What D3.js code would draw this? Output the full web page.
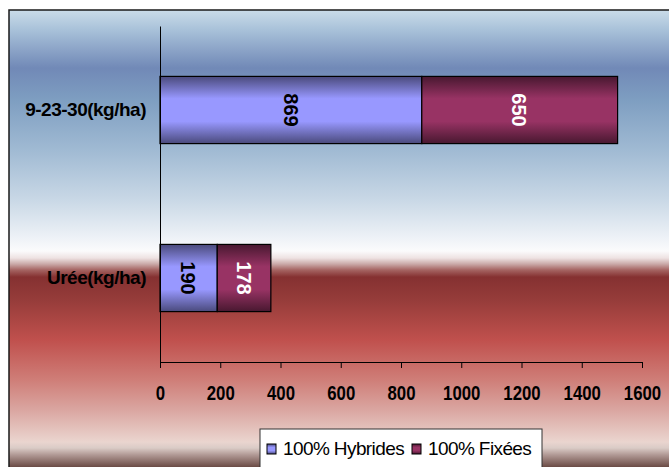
<!DOCTYPE html>
<html>
<head>
<meta charset="utf-8">
<script src="https://cdn.jsdelivr.net/npm/d3@7"></script>
<style>
  html, body { margin: 0; padding: 0; background: #ffffff; }
  svg { display: block; }
  text { font-family: "Liberation Sans", Arial, sans-serif; }
</style>
</head>
<body>
<svg id="chart" width="669" height="467"></svg>
<script>
// Fertiliser doses per hectare, stacked by variety type
const categories = ["9-23-30(kg/ha)", "Urée(kg/ha)"];
const seriesNames = ["100% Hybrides", "100% Fixées"];
const hybrides = [869, 190];
const fixees = [650, 178];
const xTicks = [0, 200, 400, 600, 800, 1000, 1200, 1400, 1600];

const svg = d3.select("#chart");
const defs = svg.append("defs");

// Chart-area backdrop: sky blue fading to white, then deep red down to a pale rose
const bgStops = [
  [10, "#cadce9"], [30, "#a8c1d9"], [68, "#7189b7"], [100, "#7e9ec1"],
  [150, "#a0bad3"], [200, "#c9d8e6"], [238, "#eef2f7"], [251, "#fbfbfc"],
  [258, "#eee2e2"], [264, "#caa9a8"], [270, "#a56462"], [277, "#853131"],
  [300, "#963c3a"], [340, "#c0504d"], [380, "#cf7e78"], [410, "#daa6a1"],
  [442, "#ead5cf"], [448, "#dacbc6"], [455, "#b09894"], [467, "#6b4b45"]
];
const bg = defs.append("linearGradient").attr("id", "bgGrad")
  .attr("gradientUnits", "userSpaceOnUse")
  .attr("x1", 0).attr("x2", 0).attr("y1", 10).attr("y2", 467);
bgStops.forEach(([yy, c]) => bg.append("stop")
  .attr("offset", ((yy - 10) / 457 * 100).toFixed(2) + "%").attr("stop-color", c));

svg.append("rect").attr("x", 9).attr("y", 10).attr("width", 700).attr("height", 500)
  .attr("fill", "url(#bgGrad)").attr("stroke", "#1a1a1a").attr("stroke-width", 1.5);

// Bar shading: dark edges, bright middle
function barGradient(id, edge, mid) {
  const g = defs.append("linearGradient").attr("id", id)
    .attr("x1", 0).attr("x2", 0).attr("y1", 0).attr("y2", 1);
  [[0, edge], [0.33, mid], [0.67, mid], [1, edge]].forEach(([o, c]) =>
    g.append("stop").attr("offset", o).attr("stop-color", c));
}
barGradient("gHyb", "#4a4a7c", "#9898ff");
barGradient("gFix", "#481830", "#983364");
const fills = ["url(#gHyb)", "url(#gFix)"];
const labelColors = ["#000000", "#ffffff"];

const plotLeft = 160, plotRight = 642, plotTop = 26, plotBottom = 362;

const x = d3.scaleLinear().domain([0, 1600]).range([plotLeft, plotRight]);
const y = d3.scaleBand().domain(categories).range([plotTop, plotBottom])
  .paddingInner(0.6).paddingOuter(0.3);

const rows = categories.map((c, i) => ({ cat: c, hybrides: hybrides[i], fixees: fixees[i] }));
const stacked = d3.stack().keys(["hybrides", "fixees"])(rows);

const layers = svg.append("g").selectAll("g").data(stacked).join("g")
  .attr("fill", (d, i) => fills[i]);

layers.selectAll("rect").data(d => d).join("rect")
  .attr("x", d => x(d[0]))
  .attr("y", d => y(d.data.cat))
  .attr("width", d => x(d[1]) - x(d[0]))
  .attr("height", y.bandwidth())
  .attr("stroke", "#000").attr("stroke-width", 1.2);

// Values written inside each segment, turned a quarter clockwise
stacked.forEach((layer, i) => {
  svg.append("g").selectAll("text").data(layer).join("text")
    .attr("transform", d => `translate(${(x(d[0]) + x(d[1])) / 2},${y(d.data.cat) + y.bandwidth() / 2}) rotate(90)`)
    .attr("text-anchor", "middle").attr("dy", "0.36em")
    .attr("font-size", 20).attr("font-weight", "bold")
    .attr("fill", labelColors[i])
    .text(d => d[1] - d[0]);
});

// Axes
const xAxis = svg.append("g").attr("transform", `translate(0,${plotBottom})`)
  .call(d3.axisBottom(x).tickValues(xTicks).tickFormat(d3.format("d"))
    .tickSize(6).tickSizeOuter(0).tickPadding(18));
xAxis.attr("font-family", null);
xAxis.selectAll("text").attr("font-size", 20).attr("font-weight", "bold")
  .attr("transform", "scale(0.84,1)").attr("fill", "#000");
xAxis.selectAll("line, path").attr("stroke", "#000");

const yAxis = svg.append("g").attr("transform", `translate(${plotLeft},0)`)
  .call(d3.axisLeft(y).tickSize(0).tickPadding(14));
yAxis.attr("font-family", null);
yAxis.selectAll("text").attr("font-size", 19).attr("font-weight", "bold")
  .attr("letter-spacing", "-0.5px").attr("fill", "#000");
yAxis.select("path").attr("stroke", "#000");

// Legend
const legend = svg.append("g");
legend.append("rect").attr("x", 260).attr("y", 429).attr("width", 282).attr("height", 60)
  .attr("fill", "#fff").attr("stroke", "#333").attr("stroke-width", 1);
const legX = [267, 412];
seriesNames.forEach((name, i) => {
  legend.append("rect").attr("x", legX[i]).attr("y", 444).attr("width", 9).attr("height", 10)
    .attr("fill", fills[i]).attr("stroke", "#000").attr("stroke-width", 1);
  legend.append("text").attr("x", legX[i] + 16).attr("y", 455)
    .attr("font-size", 19).attr("letter-spacing", "-0.6px").attr("fill", "#000")
    .text(name);
});
</script>
</body>
</html>
